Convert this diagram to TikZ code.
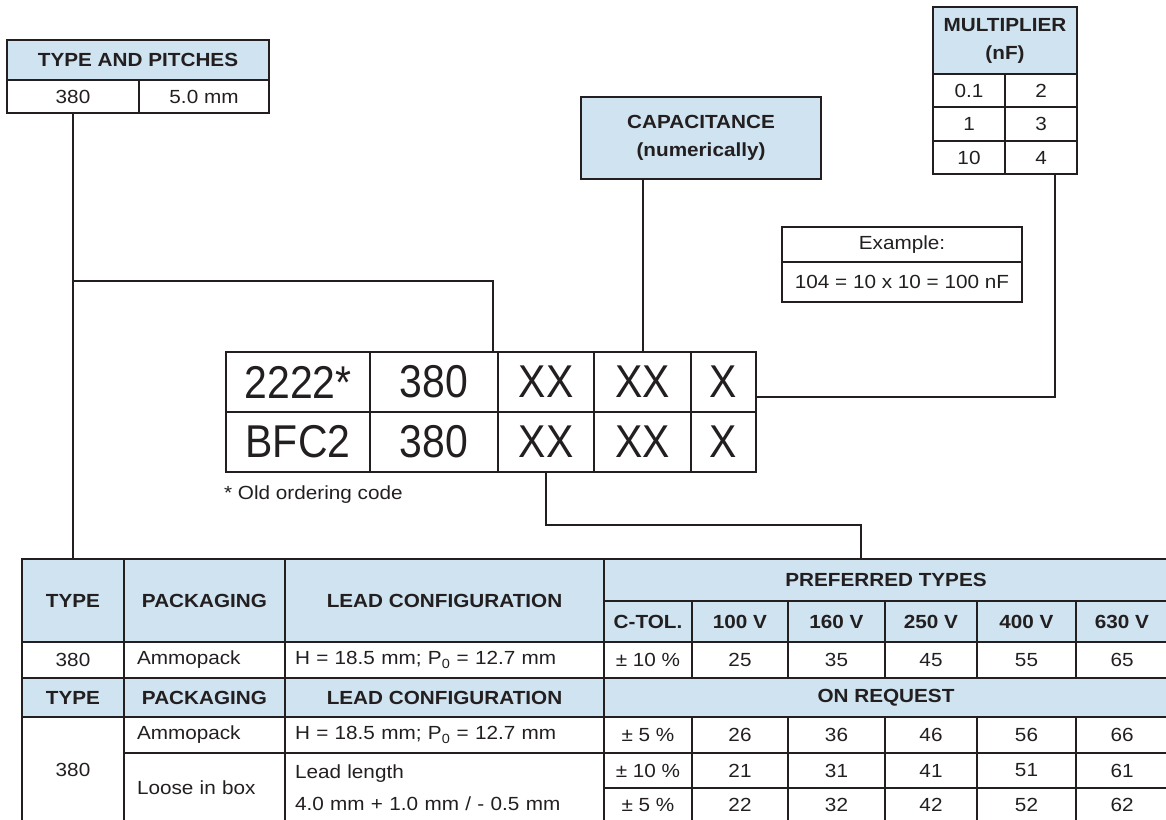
\documentclass[tikz,border=0pt]{standalone}
\usepackage{fontspec}
\setmainfont{Liberation Sans}[FakeStretch=1.09]
\newfontfamily\bigf{Liberation Sans}[FakeStretch=0.89]
\definecolor{lc}{RGB}{35,31,32}
\definecolor{hb}{RGB}{207,228,240}
\newcommand\nfs{\fontsize{19}{28}\selectfont}
\newcommand\mkcell[7][cell]{%
  \pgfmathsetmacro\cellw{#5-#3}\pgfmathsetmacro\cellh{#6-#4}%
  \node[#1, minimum width=\cellw pt, minimum height=\cellh pt] (#2) at ({(#3+#5)/2},{(#4+#6)/2}) {#7};}
\newcommand\lcell[7]{%
  \pgfmathsetmacro\cellw{#4-#2}\pgfmathsetmacro\cellh{#5-#3}\pgfmathsetmacro\cellt{#4-#2-2*#6}%
  \node[cell, align=left, text width=\cellt pt, inner xsep=#6 pt, minimum width=\cellw pt, minimum height=\cellh pt] (#1) at ({(#2+#4)/2},{(#3+#5)/2}) {#7};}
\begin{document}
\begin{tikzpicture}[x=1pt,y=-1pt,
  cell/.style={draw=lc, line width=2.1pt, inner sep=0pt, text=lc, font=\nfs, align=center},
  hcell/.style={cell, fill=hb, font=\nfs\bfseries},
  bcell/.style={cell, line width=2.8pt, font=\bigf\fontsize{46}{50}\selectfont},
  conn/.style={draw=lc, line width=2pt}]
\useasboundingbox (0,0) rectangle (1166,819);
% TYPE AND PITCHES
\mkcell[hcell]{tpH}{7}{40}{269}{80}{TYPE AND PITCHES}
\mkcell{tpA}{7}{80}{139}{113}{380}
\mkcell{tpB}{139}{80}{269}{113}{5.0 mm}
% MULTIPLIER
\mkcell[hcell]{mH}{933}{7}{1077}{74}{MULTIPLIER\\(nF)}
\mkcell{m11}{933}{74}{1005}{107}{0.1}
\mkcell{m12}{1005}{74}{1077}{107}{2}
\mkcell{m21}{933}{107}{1005}{141}{1}
\mkcell{m22}{1005}{107}{1077}{141}{3}
\mkcell{m31}{933}{141}{1005}{174}{10}
\mkcell{m32}{1005}{141}{1077}{174}{4}
% CAPACITANCE
\mkcell[hcell]{cap}{581}{97}{821}{179}{CAPACITANCE\\(numerically)}
% Example
\mkcell{ex1}{782}{227}{1022}{262}{Example:}
\mkcell{ex2}{782}{262}{1022}{302}{104 = 10 x 10 = 100 nF}
% Code table
\mkcell[bcell]{c11}{226}{352}{370}{412}{2222*}
\mkcell[bcell]{c12}{370}{352}{498}{412}{380}
\mkcell[bcell]{c13}{498}{352}{594}{412}{XX}
\mkcell[bcell]{c14}{594}{352}{691}{412}{XX}
\mkcell[bcell]{c15}{691}{352}{756}{412}{X}
\mkcell[bcell]{c21}{226}{412}{370}{472}{BFC2}
\mkcell[bcell]{c22}{370}{412}{498}{472}{380}
\mkcell[bcell]{c23}{498}{412}{594}{472}{XX}
\mkcell[bcell]{c24}{594}{412}{691}{472}{XX}
\mkcell[bcell]{c25}{691}{412}{756}{472}{X}
\node[anchor=west, inner sep=0pt, text=lc, font=\nfs] (note) at (224,495) {* Old ordering code};
% Bottom table header
\mkcell[hcell]{bT}{22}{559}{124}{642}{TYPE}
\mkcell[hcell]{bP}{124}{559}{285}{642}{PACKAGING}
\mkcell[hcell]{bL}{285}{559}{604}{642}{LEAD CONFIGURATION}
\mkcell[hcell]{bPT}{604}{559}{1168}{601}{PREFERRED TYPES}
\mkcell[hcell]{bCT}{604}{601}{692}{642}{C-TOL.}
\mkcell[hcell]{bV1}{692}{601}{788}{642}{100 V}
\mkcell[hcell]{bV2}{788}{601}{885}{642}{160 V}
\mkcell[hcell]{bV3}{885}{601}{977}{642}{250 V}
\mkcell[hcell]{bV4}{977}{601}{1076}{642}{400 V}
\mkcell[hcell]{bV5}{1076}{601}{1168}{642}{630 V}
% row 380
\mkcell{r1a}{22}{642}{124}{678}{380}
\lcell{r1b}{124}{642}{285}{678}{13}{Ammopack}
\lcell{r1c}{285}{642}{604}{678}{10}{H = 18.5 mm; P\textsubscript{0} = 12.7 mm}
\mkcell{r1d}{604}{642}{692}{678}{± 10 \%}
\mkcell{r1e}{692}{642}{788}{678}{25}
\mkcell{r1f}{788}{642}{885}{678}{35}
\mkcell{r1g}{885}{642}{977}{678}{45}
\mkcell{r1h}{977}{642}{1076}{678}{55}
\mkcell{r1i}{1076}{642}{1168}{678}{65}
% header 2
\mkcell[hcell]{hT}{22}{678}{124}{717}{TYPE}
\mkcell[hcell]{hP}{124}{678}{285}{717}{PACKAGING}
\mkcell[hcell]{hL}{285}{678}{604}{717}{LEAD CONFIGURATION}
\mkcell[hcell]{hR}{604}{678}{1168}{717}{ON REQUEST}
% on request rows
\mkcell{r3a}{22}{717}{124}{822}{380}
\lcell{r3b}{124}{717}{285}{753}{13}{Ammopack}
\lcell{r3c}{285}{717}{604}{753}{10}{H = 18.5 mm; P\textsubscript{0} = 12.7 mm}
\lcell{r4b}{124}{753}{285}{822}{13}{Loose in box}
\node[cell, font=\fontsize{19}{32}\selectfont, align=left, text width=299pt, inner xsep=10pt, minimum width=319pt, minimum height=69pt] (r4c) at (444.5,787.5) {Lead length\\4.0 mm + 1.0 mm / - 0.5 mm};
\mkcell{r3d}{604}{717}{692}{753}{± 5 \%}
\mkcell{r3e}{692}{717}{788}{753}{26}
\mkcell{r3f}{788}{717}{885}{753}{36}
\mkcell{r3g}{885}{717}{977}{753}{46}
\mkcell{r3h}{977}{717}{1076}{753}{56}
\mkcell{r3i}{1076}{717}{1168}{753}{66}
\mkcell{r4d}{604}{753}{692}{788}{± 10 \%}
\mkcell{r4e}{692}{753}{788}{788}{21}
\mkcell{r4f}{788}{753}{885}{788}{31}
\mkcell{r4g}{885}{753}{977}{788}{41}
\mkcell{r4h}{977}{753}{1076}{788}{51}
\mkcell{r4i}{1076}{753}{1168}{788}{61}
\mkcell{r5d}{604}{788}{692}{822}{± 5 \%}
\mkcell{r5e}{692}{788}{788}{822}{22}
\mkcell{r5f}{788}{788}{885}{822}{32}
\mkcell{r5g}{885}{788}{977}{822}{42}
\mkcell{r5h}{977}{788}{1076}{822}{52}
\mkcell{r5i}{1076}{788}{1168}{822}{62}
% connectors
\coordinate (j1) at (tpA.south |- 0,281);
\coordinate (j2) at (493,281);
\draw[conn] (tpA.south) -- (tpA.south |- bT.north);
\draw[conn] (j1) -- (j2) -- (j2 |- c12.north);
\draw[conn] (cap.south -| c14.north) -- (c14.north);
\draw[conn] ([xshift=14pt]m32.south) |- ([yshift=-15pt]c15.east);
\coordinate (k2) at (861,525);
\draw[conn] (c23.south) |- (k2) -- (k2 |- bPT.north);
\end{tikzpicture}
\end{document}
